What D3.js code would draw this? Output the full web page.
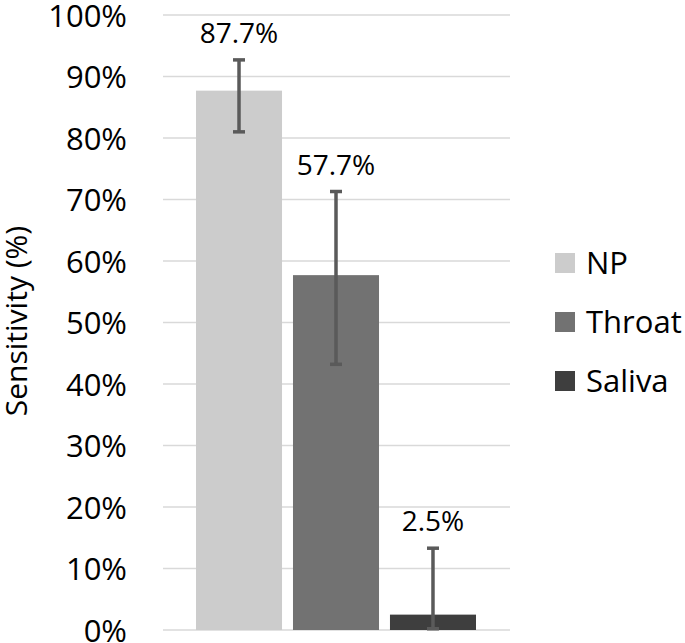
<!DOCTYPE html>
<html>
<head>
<meta charset="utf-8">
<script src="https://cdn.jsdelivr.net/npm/d3@7"></script>
<style>
  html, body { margin: 0; padding: 0; background: #fff; }
  svg { display: block; }
  text { font-family: "Open Sans", sans-serif; fill: #000; }
</style>
</head>
<body>
<svg id="chart" width="685" height="643"></svg>
<script>
const series = ["NP", "Throat", "Saliva"];
const values = [87.7, 57.7, 2.5];
const errLow = [81.0, 43.2, 0.2];
const errHigh = [92.7, 71.3, 13.3];
const valueLabels = ["87.7%", "57.7%", "2.5%"];
const colors = ["#cccccc", "#727272", "#3e3e3e"];
const yTicks = [0, 10, 20, 30, 40, 50, 60, 70, 80, 90, 100];
const yTitle = "Sensitivity (%)";

const svg = d3.select("#chart");
const plot = { left: 163, right: 510, top: 15, bottom: 630 };

const y = d3.scaleLinear().domain([0, 100]).range([plot.bottom, plot.top]);
const x = d3.scaleBand().domain(series).range([196, 476]).paddingInner(0.113).paddingOuter(0);
const color = d3.scaleOrdinal().domain(series).range(colors);

// gridlines
svg.append("g").selectAll("line").data(yTicks).join("line")
  .attr("x1", plot.left).attr("x2", plot.right)
  .attr("y1", d => y(d)).attr("y2", d => y(d))
  .attr("stroke", "#d9d9d9").attr("stroke-width", 1.5);

// y axis labels
const yAxis = d3.axisLeft(y).tickValues(yTicks).tickFormat(d => d + "%").tickSize(0).tickPadding(0);
const ga = svg.append("g").attr("transform", `translate(127,0)`).call(yAxis);
ga.select(".domain").remove();
ga.selectAll("text").attr("font-size", 31).attr("fill", "#000")
  .attr("font-family", "'Open Sans', sans-serif").attr("dy", "0.36em");

// bars
const idx = series.map((s, i) => i);
svg.append("g").selectAll("rect").data(idx).join("rect")
  .attr("x", i => x(series[i]))
  .attr("width", x.bandwidth())
  .attr("y", i => y(values[i]))
  .attr("height", i => y(0) - y(values[i]))
  .attr("fill", i => color(series[i]));

// error bars
const eb = svg.append("g").attr("stroke", "#5a5a5a");
const cx = i => x(series[i]) + x.bandwidth() / 2;
eb.selectAll("line.v").data(idx).join("line").attr("class", "v")
  .attr("x1", cx).attr("x2", cx)
  .attr("y1", i => y(errLow[i])).attr("y2", i => y(errHigh[i]))
  .attr("stroke-width", 3.5);
eb.selectAll("line.ch").data(idx).join("line").attr("class", "ch")
  .attr("x1", i => cx(i) - 6).attr("x2", i => cx(i) + 6)
  .attr("y1", i => y(errHigh[i])).attr("y2", i => y(errHigh[i]))
  .attr("stroke-width", 3.5);
eb.selectAll("line.cl").data(idx).join("line").attr("class", "cl")
  .attr("x1", i => cx(i) - 6).attr("x2", i => cx(i) + 6)
  .attr("y1", i => y(errLow[i])).attr("y2", i => y(errLow[i]))
  .attr("stroke-width", 3.5);

// value labels
svg.append("g").selectAll("text").data(idx).join("text")
  .attr("x", cx)
  .attr("y", i => y(errHigh[i]) - 17)
  .attr("text-anchor", "middle")
  .attr("font-size", 28)
  .text(i => valueLabels[i]);

// y title
svg.append("text")
  .attr("transform", `translate(27,321) rotate(-90)`)
  .attr("text-anchor", "middle")
  .attr("font-size", 30)
  .text(yTitle);

// legend
const lg = svg.append("g").selectAll("g").data(idx).join("g")
  .attr("transform", i => `translate(555,${253 + i * 59})`);
lg.append("rect").attr("width", 20).attr("height", 20).attr("fill", i => colors[i]);
lg.append("text").attr("x", 31).attr("y", 10).attr("dy", "0.36em")
  .attr("font-size", 31).text(i => series[i]);
</script>
</body>
</html>
